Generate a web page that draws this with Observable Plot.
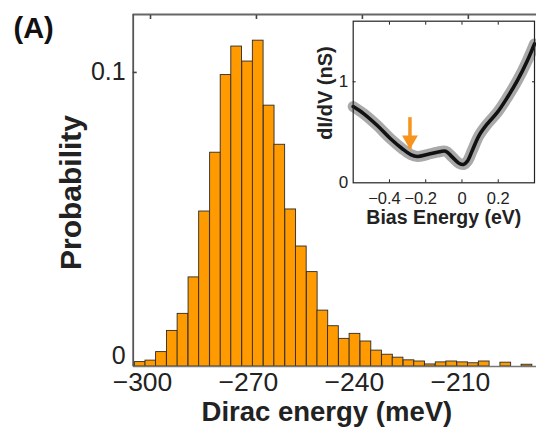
<!DOCTYPE html>
<html><head><meta charset="utf-8">
<script src="https://cdn.jsdelivr.net/npm/d3@7"></script>
<script src="https://cdn.jsdelivr.net/npm/@observablehq/plot@0.6"></script>
<style>
body{margin:0;background:#fff;}
#wrap{position:relative;width:536px;height:431px;overflow:hidden;}
#wrap svg{position:absolute;}
</style></head><body><div id="wrap"></div>
<script>
// ---- main histogram data ----
const binCenters = [-302.9, -299.9, -296.9, -293.8, -290.8, -287.7, -284.7, -281.6, -278.6, -275.6,
  -272.5, -269.5, -266.4, -263.4, -260.3, -257.3, -254.2, -251.2, -248.2, -245.1,
  -242.1, -239.0, -236.0, -232.9, -229.9, -226.8, -223.8, -220.8, -217.7, -214.7,
  -211.6, -208.6, -205.5, -202.5, -199.4, -196.4, -193.4];
const probability = [0.0015, 0.0020, 0.0049, 0.0121, 0.0179, 0.0303, 0.0527, 0.0727, 0.0991, 0.1088,
  0.1037, 0.1108, 0.0887, 0.0754, 0.0534, 0.0408, 0.0321, 0.0190, 0.0137, 0.0094,
  0.0111, 0.0085, 0.0054, 0.0040, 0.0030, 0.0021, 0.0017, 0.0007, 0.0014, 0.0017,
  0.0014, 0.0011, 0.0017, 0.0000, 0.0013, 0.0000, 0.0006];
const binWidth = 3.04;
const xDomain = [-304.9, -190.7];
const yDomain = [0, 0.1197];
const xTicks = [-300, -270, -240, -210];
const yTicks = [0, 0.1];
const xTitle = "Dirac energy (meV)";
const yTitle = "Probability";
const panelLabel = "(A)";

// ---- inset data ----
const biasEnergy = [-0.6, -0.541, -0.467, -0.394, -0.329, -0.283, -0.246, -0.191, -0.136, -0.090, -0.053,
  -0.017, 0.008, 0.030, 0.057, 0.094, 0.140, 0.196, 0.251, 0.306, 0.361, 0.400];
const dIdV = [0.755, 0.683, 0.567, 0.436, 0.337, 0.280, 0.260, 0.280, 0.303, 0.313, 0.254,
  0.194, 0.181, 0.214, 0.320, 0.468, 0.584, 0.699, 0.847, 1.013, 1.211, 1.375];
const insetXDomain = [-0.6, 0.4];
const insetYDomain = [0, 1.6];
const insetXTicks = [-0.4, -0.2, 0, 0.2];
const insetYTicks = [0, 1];
const insetXTitle = "Bias Energy (eV)";
const insetYTitle = "dI/dV (nS)";
const arrowBias = [-0.287];
const arrowTail = [0.65];
const arrowTip = [0.335];

const FONT = "Liberation Sans, Arial, Helvetica, sans-serif";
const INK = "#222";
const ORANGE = "#ff9a00";
const fmt = d => (d < 0 ? "\u2212" : "") + String(Math.abs(d));

const bars = binCenters.map((c, i) => ({x1: c - binWidth / 2, x2: c + binWidth / 2, p: probability[i]}))
  .filter(d => d.p > 0);

const main = Plot.plot({
  width: 536, height: 431,
  marginLeft: 132.7, marginRight: 0, marginTop: 14, marginBottom: 65,
  x: {domain: xDomain},
  y: {domain: yDomain},
  style: {fontFamily: FONT, color: INK, background: "transparent", overflow: "visible"},
  marks: [
    Plot.rectY(bars, {x1: "x1", x2: "x2", y: "p", fill: ORANGE, stroke: "#2b2b2b", strokeWidth: 0.9}),
    Plot.ruleY([yDomain[0]], {stroke: "#777", strokeWidth: 1.6}),
    Plot.ruleY([yDomain[1]], {stroke: "#666", strokeWidth: 1.8}),
    Plot.ruleX([xDomain[0]], {stroke: "#555", strokeWidth: 1.8}),
    Plot.axisX({anchor: "top", ticks: xTicks, tickSize: -4, tickFormat: () => "", label: null, stroke: "#444", strokeWidth: 1.6}),
    Plot.axisY({anchor: "left", ticks: [yTicks[1]], tickSize: -4, tickFormat: () => "", label: null, stroke: "#444", strokeWidth: 1.6}),
    Plot.axisX({ticks: xTicks, tickSize: 0, tickPadding: 6, fontSize: 26.5, dx: -8, tickFormat: fmt, label: null, fill: INK}),
    Plot.axisY({ticks: [yTicks[1]], tickSize: 0, tickPadding: 7.5, fontSize: 25, tickFormat: fmt, label: null, fill: INK}),
    Plot.axisY({ticks: [yTicks[0]], tickSize: 0, tickPadding: 7.5, fontSize: 25, dy: -11, tickFormat: fmt, label: null, fill: INK}),
    Plot.text([xTitle], {text: d => d, frameAnchor: "bottom", textAnchor: "middle", lineAnchor: "top", dy: 35, dx: -8,
      fontSize: 27.5, fontWeight: "bold", fill: INK}),
    Plot.text([yTitle], {text: d => d, frameAnchor: "left", textAnchor: "middle", lineAnchor: "bottom", rotate: -90,
      dx: -52.7, dy: 2, fontSize: 30, fontWeight: "bold", fill: INK}),
    Plot.text([panelLabel], {text: d => d, frameAnchor: "top-left", textAnchor: "start", lineAnchor: "bottom",
      dx: -119.7, dy: 23, fontSize: 29, fontWeight: "bold", fill: "#111"})
  ]
});
main.style.left = "0px"; main.style.top = "0px";

const curve = biasEnergy.map((b, i) => ({b, g: dIdV[i]}));
const arrow = arrowBias.map((b, i) => ({b, tail: arrowTail[i], tip: arrowTip[i]}));

const inset = Plot.plot({
  width: 226, height: 215,
  marginLeft: 42.7, marginRight: 2, marginTop: 5.7, marginBottom: 47.7,
  x: {domain: insetXDomain},
  y: {domain: insetYDomain},
  style: {fontFamily: FONT, color: INK, background: "transparent", overflow: "visible"},
  marks: [
    Plot.frame({fill: "white", stroke: "none"}),
    Plot.line(curve, {x: "b", y: "g", curve: "catmull-rom", stroke: "#a0a0a0", strokeWidth: 11, strokeOpacity: 0.9}),
    Plot.line(curve, {x: "b", y: "g", curve: "catmull-rom", stroke: "#111", strokeWidth: 3.6}),
    Plot.link(arrow, {x1: "b", x2: "b", y1: "tail", y2: "tip", stroke: "#f7941d", strokeWidth: 3.5}),
    Plot.dot(arrow, {x: "b", y: "tip", symbol: "triangle", rotate: 180, r: 5.9, dy: -9, fill: "#f7941d", stroke: "none"}),
    Plot.frame({stroke: "#222", strokeWidth: 1.2}),
    Plot.axisX({anchor: "bottom", ticks: insetXTicks, tickSize: -3, tickFormat: () => "", label: null, stroke: "#222"}),
    Plot.axisX({anchor: "top", ticks: insetXTicks, tickSize: -3, tickFormat: () => "", label: null, stroke: "#222"}),
    Plot.axisY({anchor: "left", ticks: [insetYTicks[1]], tickSize: -3, tickFormat: () => "", label: null, stroke: "#222"}),
    Plot.axisY({anchor: "right", ticks: [insetYTicks[1]], tickSize: -3, tickFormat: () => "", label: null, stroke: "#222"}),
    Plot.axisX({ticks: insetXTicks.filter(d => d < 0), tickSize: 0, tickPadding: 9, fontSize: 16.5, dx: -5, tickFormat: fmt, label: null, fill: INK}),
    Plot.axisX({ticks: insetXTicks.filter(d => d >= 0), tickSize: 0, tickPadding: 9, fontSize: 16.5, tickFormat: fmt, label: null, fill: INK}),
    Plot.axisY({ticks: insetYTicks, tickSize: 0, tickPadding: 5, fontSize: 17, tickFormat: fmt, label: null, fill: INK}),
    Plot.text([insetXTitle], {text: d => d, frameAnchor: "bottom", textAnchor: "middle", lineAnchor: "top", dy: 27,
      fontSize: 19.5, fontWeight: "bold", fill: INK}),
    Plot.text([insetYTitle], {text: d => d, frameAnchor: "left", textAnchor: "middle", lineAnchor: "bottom", rotate: -90,
      dx: -21.7, dy: -9, fontSize: 20, fontWeight: "bold", fill: INK})
  ]
});
inset.style.left = "310px"; inset.style.top = "15px";

const wrap = document.getElementById("wrap");
wrap.appendChild(main);
wrap.appendChild(inset);
</script>
</body></html>
